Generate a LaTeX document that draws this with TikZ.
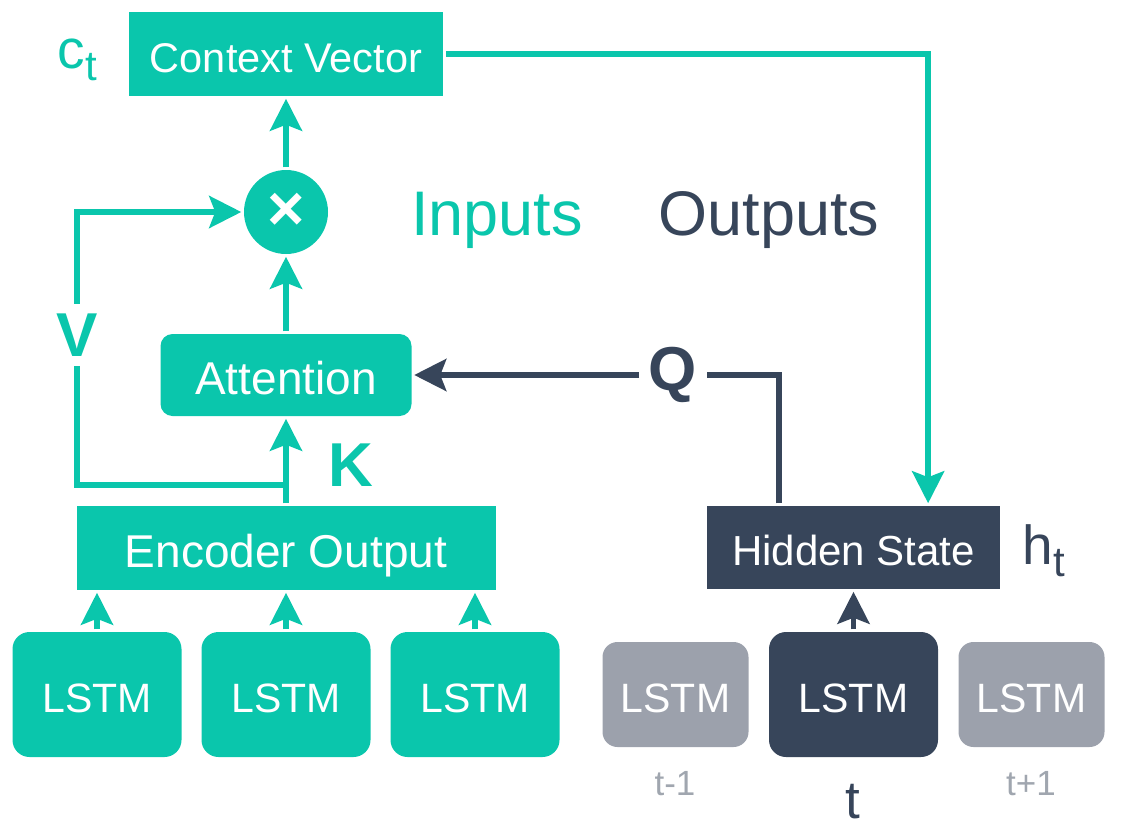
\documentclass[tikz,border=0pt]{standalone}
\usepackage{fontspec}
\setmainfont{Liberation Sans}
\usetikzlibrary{arrows.meta,calc}

\definecolor{attnteal}{RGB}{10,198,172}
\definecolor{slate}{RGB}{55,69,90}
\definecolor{fadegray}{RGB}{156,161,172}
\definecolor{fadetext}{RGB}{160,166,175}
\newcommand{\fs}[1]{\fontsize{#1}{#1}\selectfont}

\begin{document}
\begin{tikzpicture}[x=0.5pt,y=-0.5pt,>={Stealth[length=16pt,width=16pt,inset=3pt]},
  line width=2.75pt,node distance=80pt,
  teal box/.style={rectangle,fill=attnteal,text=white,inner sep=0pt,
    text height=18pt,text depth=0pt,font=\fs{20.75pt}},
  lstm box/.style={rectangle,rounded corners=8.5pt,fill=attnteal,text=white,
    text height=18.2pt,text depth=0pt,
    minimum width=84.5pt,minimum height=62.5pt,font=\fs{20.5pt}},
  ghost box/.style={lstm box,fill=fadegray,rounded corners=7.5pt,
    minimum width=73pt,minimum height=52.5pt},
  io label/.style={anchor=base,font=\fs{31.5pt}},
  key label/.style={inner sep=3.5pt,font=\fs{31pt}\bfseries},
  step label/.style={anchor=base,inner sep=0pt},
  teal line/.style={draw=attnteal,->},
  slate line/.style={draw=slate,->}]
  \useasboundingbox (0,0) rectangle (1124,830);

  % encoder side
  \node[teal box,minimum width=157pt,minimum height=42pt] (cv) at (286,54) {Context Vector};
  \node[circle,fill=attnteal,text=white,minimum size=42pt,inner sep=0pt,
    font=\fs{32pt}\bfseries] (mul) [below of=cv,node distance=79pt] {×};
  \node[teal box,rounded corners=6pt,minimum width=125.5pt,minimum height=41pt,
    text height=19.5pt,font=\fs{23pt}] (att) [below of=mul,node distance=81.5pt] {Attention};
  \node[teal box,minimum width=209.5pt,minimum height=42pt,text height=19.5pt,
    font=\fs{23pt}] (enc) [below of=att,node distance=86.5pt] {Encoder Output};
  \node[lstm box] (enc2) [below of=enc,node distance=73.25pt] {LSTM};
  \node[lstm box] (enc1) [left of=enc2,node distance=94.5pt] {LSTM};
  \node[lstm box] (enc3) [right of=enc2,node distance=94.5pt] {LSTM};

  % decoder side
  \node[teal box,fill=slate,minimum width=146.5pt,minimum height=41.5pt,font=\fs{21pt}]
    (hid) at (853.5,547.5) {Hidden State};
  \node[lstm box,fill=slate] (dec) [below of=hid,node distance=73.5pt] {LSTM};
  \node[ghost box] (decprev) [left of=dec,node distance=89pt] {LSTM};
  \node[ghost box] (decnext) [right of=dec,node distance=89pt] {LSTM};
  \node[step label,text=fadetext,font=\fs{17.5pt}] (tprev) at (675,795) {t-1};
  \node[step label,text=slate,font=\fs{26.5pt}] (tnow) at (853,818) {t};
  \node[step label,text=fadetext,font=\fs{17.5pt}] (tnext) at (1031,795) {t+1};

  % labels
  \node[anchor=base west,inner sep=0pt,text=attnteal,font=\fs{27.5pt}] (ct) at (55,68)
    {c\raisebox{-6pt}{\fs{21pt}t}};
  \node[anchor=base west,inner sep=0pt,text=slate,font=\fs{27.5pt}] (ht) at (1020,564)
    {h\raisebox{-6pt}{\fs{21pt}t}};
  \node[io label,text=attnteal] (inputs) at (497,235) {Inputs};
  \node[io label,text=slate] (outputs) at (769,235) {Outputs};
  \node[key label,text=attnteal] (vlab) at (77,335) {V};
  \node[key label,text=attnteal] (klab) at (351,465) {K};
  \node[key label,text=slate] (qlab) at (673,375) {Q};

  % connectors
  \draw[teal line] (mul) -- (cv);
  \draw[teal line] (att) -- (mul);
  \draw[teal line] (enc) -- (att);
  \foreach \n in {enc1,enc2,enc3}
    \draw[teal line] (\n) -- (\n |- enc.south);
  \coordinate (kv) at (enc.north |- 0,485);
  \draw[teal line,-] (kv) -| (vlab.south);
  \draw[teal line] (vlab.north) |- (mul.west);
  \draw[teal line] (cv.east) -| ($(hid.north west)!0.75!(hid.north east)$);
  \coordinate (qfoot) at ($(hid.north west)!0.25!(hid.north east)$);
  \draw[slate line,-] (qfoot) |- (qlab.east);
  \draw[slate line] (qlab.west) -- (att.east);
  \draw[slate line] (dec.north) -- (dec.north |- hid.south);
\end{tikzpicture}
\end{document}
